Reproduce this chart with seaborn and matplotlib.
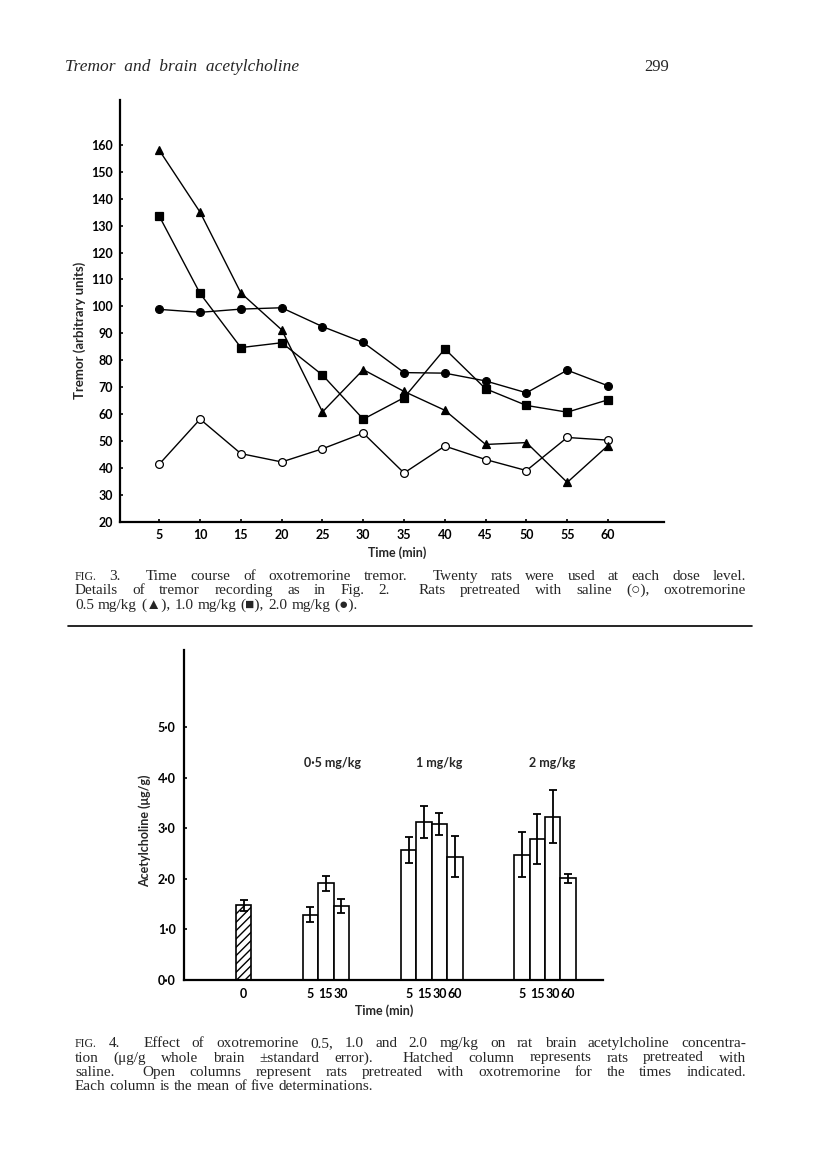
import matplotlib
matplotlib.use('Agg')
import matplotlib.pyplot as plt
from matplotlib.lines import Line2D
import pandas as pd
import seaborn as sns

# Fig. 3 - time course of oxotremorine tremor (arbitrary units)
times = [5, 10, 15, 20, 25, 30, 35, 40, 45, 50, 55, 60]
saline = [41.4, 58.1, 45.3, 42.2, 47.1, 52.9, 38.1, 48.1, 43.1, 39.0, 51.3, 50.3]
oxo_05 = [158.0, 135.0, 105.0, 91.3, 60.8, 76.5, 68.4, 61.4, 48.7, 49.4, 34.6, 48.3]
oxo_10 = [133.5, 104.8, 84.7, 86.5, 74.5, 58.1, 66.1, 84.2, 69.4, 63.2, 60.7, 65.3]
oxo_20 = [98.9, 97.8, 99.0, 99.5, 92.5, 86.6, 75.4, 75.2, 72.3, 67.9, 76.3, 70.5]
tremor_ticks = [20, 30, 40, 50, 60, 70, 80, 90, 100, 110, 120, 130, 140, 150, 160]

# Fig. 4 - brain acetylcholine (ug/g) +- s.e.
ach_saline = [1.48]
se_saline = [0.11]
ach_05 = [1.29, 1.91, 1.47]
se_05 = [0.15, 0.155, 0.135]
ach_10 = [2.57, 3.13, 3.08, 2.44]
se_10 = [0.25, 0.32, 0.22, 0.41]
ach_20 = [2.48, 2.79, 3.23, 2.01]
se_20 = [0.45, 0.50, 0.52, 0.095]
time_labels = [['0'], ['5', '15', '30'], ['5', '15', '30', '60'], ['5', '15', '30', '60']]
dose_labels = ['0·5 mg/kg', '1 mg/kg', '2 mg/kg']
ach_ticks = [0, 1, 2, 3, 4, 5]

W, H = 816, 1153
SANS = 'Lato'
SERIF = ['Liberation Serif', 'DejaVu Sans']


def fx(px):
    return px / W


def fy(py):
    return 1 - py / H


sns.set_theme(style='ticks')
plt.rcParams['font.family'] = [SANS, 'DejaVu Sans']
plt.rcParams['hatch.linewidth'] = 1.0

fig = plt.figure(figsize=(W / 100, H / 100), dpi=100)
fig.patch.set_facecolor('white')

# ---------------- Fig. 3 ----------------
ax1 = fig.add_axes([fx(120), fy(521.7), (664.3 - 120) / W, (521.7 - 100) / H])
series = [(saline, 'o', 'white'), (oxo_05, '^', 'black'),
          (oxo_10, 's', 'black'), (oxo_20, 'o', 'black')]
for vals, mk, face in series:
    df = pd.DataFrame({'time': times, 'tremor': vals})
    sns.lineplot(data=df, x='time', y='tremor', ax=ax1, color='black', lw=1.0,
                 marker=mk, markersize=5.6, markerfacecolor=face,
                 markeredgecolor='black', markeredgewidth=0.9)
ax1.set_xlim(0.18, 66.9)
ax1.set_ylim(20, 176.7)
ax1.set_xticks(times)
ax1.set_yticks(tremor_ticks)
ax1.set_xlabel('')
ax1.set_ylabel('')
ax1.set_facecolor('white')
sns.despine(ax=ax1)
for s in ['left', 'bottom']:
    ax1.spines[s].set_linewidth(1.6)
    ax1.spines[s].set_color('black')
ax1.tick_params(direction='in', length=2.5, width=1.2, colors='black',
                labelsize=9, pad=5)
for lab in ax1.get_xticklabels() + ax1.get_yticklabels():
    lab.set_fontweight('bold')
fig.text(fx(397), fy(553), 'Time (min)', ha='center', va='center',
         fontsize=9, fontweight='bold')
fig.text(fx(80), fy(330), 'Tremor (arbitrary units)', ha='center', va='center',
         rotation=90, fontsize=9.5, fontweight='bold')

# ---------------- Fig. 4 ----------------
ax2 = fig.add_axes([fx(184), fy(980), (603.3 - 184) / W, (980 - 650) / H])
group_left = [3.38, 7.71, 14.09, 21.45]
groups = [(ach_saline, se_saline), (ach_05, se_05), (ach_10, se_10), (ach_20, se_20)]
pos, vals, errs, labels = [], [], [], []
for left, (v, e), tl in zip(group_left, groups, time_labels):
    for i in range(len(v)):
        pos.append(left + 0.5 + i)
    vals += v
    errs += e
    labels += tl
sns.barplot(x=pos, y=vals, native_scale=True, width=1.0, color='white',
            saturation=1, edgecolor='black', linewidth=1.2, errorbar=None, ax=ax2)
ax2.patches[0].set_hatch('////')
ax2.errorbar(pos, vals, yerr=errs, fmt='none', ecolor='black', elinewidth=1.3,
             capsize=3.2, capthick=1.3)
ax2.set_xlim(0, 27.23)
ax2.set_ylim(0, 6.53)
ax2.set_xticks(pos)
ax2.set_xticklabels(labels)
ax2.set_yticks(ach_ticks)
ax2.set_yticklabels([f'{t}·0' for t in ach_ticks])
ax2.set_xlabel('')
ax2.set_ylabel('')
ax2.set_facecolor('white')
sns.despine(ax=ax2)
for s in ['left', 'bottom']:
    ax2.spines[s].set_linewidth(1.6)
    ax2.spines[s].set_color('black')
ax2.tick_params(axis='y', direction='in', length=2.5, width=1.2, colors='black',
                labelsize=9, pad=6)
ax2.tick_params(axis='x', length=0, colors='black', labelsize=9, pad=6)
for lab in ax2.get_xticklabels() + ax2.get_yticklabels():
    lab.set_fontweight('bold')
group_mid = [group_left[k] + len(groups[k][0]) / 2 + 0.45 for k in range(1, 4)]
for xm, txt in zip(group_mid, dose_labels):
    ax2.text(xm, 4.3, txt, ha='center', va='center', fontsize=9, fontweight='bold')
fig.text(fx(384), fy(1011), 'Time (min)', ha='center', va='center',
         fontsize=9, fontweight='bold')
fig.text(fx(145), fy(831), 'Acetylcholine (\u03bcg/g)', ha='center', va='center',
         rotation=90, fontsize=9, fontweight='bold')

# ---------------- page furniture ----------------
fig.text(fx(65), fy(71), 'Tremor  and  brain  acetylcholine', ha='left', va='baseline',
         fontsize=12.5, style='italic', family=SERIF)
fig.text(fx(657), fy(71), '299', ha='center', va='baseline', fontsize=12, family=SERIF)
fig.add_artist(Line2D([fx(68), fx(752)], [fy(626), fy(626)], color='black', lw=1.2))

renderer = fig.canvas.get_renderer()
CAP = 11


def caption_line(words, x0, x1, ybase, justify=True):
    texts = []
    for w in words:
        size = CAP * 0.78 if w == 'FIG.' else CAP
        texts.append(fig.text(0, fy(ybase), w, ha='left', va='baseline',
                              fontsize=size, family=SERIF))
    widths = [t.get_window_extent(renderer).width for t in texts]
    weights = []
    for w in words[:-1]:
        weights.append(2.0 if (w.endswith('.') and w not in ('FIG.', 'Fig.')) else 1.0)
    if justify:
        unit = (x1 - x0 - sum(widths)) / sum(weights)
    else:
        unit = CAP * 100 / 72 * 0.27
    x = x0
    for k, t in enumerate(texts):
        t.set_x(fx(x))
        if k < len(weights):
            x += widths[k] + weights[k] * unit


cap3 = ['FIG. 3. Time course of oxotremorine tremor. Twenty rats were used at each dose level.',
        'Details of tremor recording as in Fig. 2. Rats pretreated with saline (\u25cb), oxotremorine',
        '0.5 mg/kg (\u25b2), 1.0 mg/kg (\u25a0), 2.0 mg/kg (\u25cf).']
cap4 = ['FIG. 4. Effect of oxotremorine 0.5, 1.0 and 2.0 mg/kg on rat brain acetylcholine concentra-',
        'tion (\u03bcg/g whole brain \u00b1standard error). Hatched column represents rats pretreated with',
        'saline. Open columns represent rats pretreated with oxotremorine for the times indicated.',
        'Each column is the mean of five determinations.']
for k, line in enumerate(cap3):
    caption_line(line.split(' '), 75, 746, 580 + 14.3 * k, justify=k < len(cap3) - 1)
for k, line in enumerate(cap4):
    caption_line(line.split(' '), 75, 746, 1047 + 14.5 * k, justify=k < len(cap4) - 1)

fig.savefig('out.png', dpi=100, facecolor='white')
